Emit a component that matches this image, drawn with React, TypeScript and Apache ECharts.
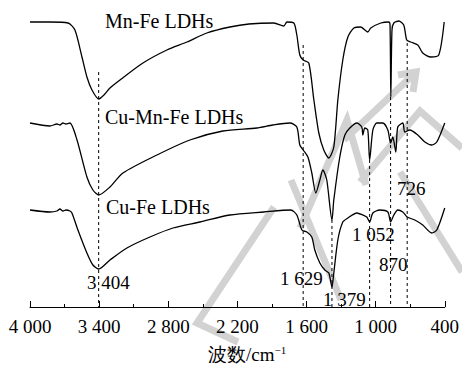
import React, { useEffect, useRef } from "react";
import * as echarts from "echarts";

// Wavenumber (cm^-1) vs. relative transmittance (arbitrary offset units)
const mnFe: [number, number][] = [
  [4000, 285], [3827, 285], [3670, 284], [3610, 277], [3549, 250], [3506, 230],
  [3462, 217], [3404, 208], [3358, 212], [3306, 219], [3219, 227], [3020, 244],
  [2812, 257], [2638, 265], [2465, 274], [2265, 280], [2100, 283], [1883, 284],
  [1797, 281], [1770, 285], [1710, 284], [1684, 272], [1658, 252], [1629, 247],
  [1580, 244], [1536, 207], [1493, 174], [1450, 157], [1406, 149], [1363, 160],
  [1328, 207], [1285, 247], [1241, 270], [1189, 279], [1129, 280], [1068, 275],
  [1042, 279], [955, 284], [886, 285], [875, 282], [868, 210], [858, 277],
  [842, 284], [799, 286], [756, 282], [730, 267], [695, 265], [634, 262],
  [591, 254], [521, 250], [452, 252], [405, 285],
];

const cuMnFe: [number, number][] = [
  [4000, 184], [3827, 181], [3766, 183], [3740, 182], [3714, 184], [3688, 183],
  [3653, 184], [3592, 167], [3506, 130], [3454, 117], [3404, 112], [3306, 120],
  [3193, 134], [2898, 152], [2612, 167], [2326, 176], [2031, 179], [1892, 182],
  [1744, 184], [1684, 180], [1658, 162], [1629, 157], [1588, 150], [1554, 134],
  [1519, 114], [1484, 127], [1458, 137], [1424, 127], [1379, 87], [1363, 107],
  [1311, 150], [1267, 172], [1224, 179], [1163, 184], [1120, 180], [1111, 172],
  [1094, 179], [1068, 177], [1052, 147], [1024, 177], [990, 184], [938, 184],
  [894, 177], [870, 164], [851, 170], [825, 155], [808, 180], [764, 184],
  [747, 175], [704, 177], [634, 172], [573, 165], [513, 162], [469, 165],
  [400, 184],
];

const cuFe: [number, number][] = [
  [4000, 97], [3827, 95], [3766, 96], [3740, 98], [3714, 96], [3688, 97],
  [3653, 96], [3636, 94], [3584, 77], [3506, 54], [3454, 42], [3404, 38],
  [3306, 47], [3159, 59], [2959, 70], [2759, 79], [2525, 85], [2265, 92],
  [1970, 95], [1736, 97], [1684, 92], [1640, 77], [1597, 75], [1554, 70],
  [1528, 57], [1484, 44], [1441, 37], [1406, 34], [1379, 20], [1363, 34],
  [1328, 67], [1285, 85], [1241, 89], [1163, 94], [1111, 92], [1077, 90],
  [1052, 85], [1024, 94], [964, 97], [894, 95], [870, 85], [842, 92],
  [808, 97], [764, 95], [726, 90], [660, 87], [591, 82], [513, 74],
  [469, 77], [400, 99],
];

// Marked peaks: wavenumber and the level the dashed guide starts from
const peakWavenumbers = [3404, 1629, 1379, 1052, 870, 726];
const peakGuideTops = [235, 262, 87, 147, 210, 264];
const peakLabels = ["3 404", "1 629", "1 379", "1 052", "870", "726"];

const seriesNames = ["Mn-Fe LDHs", "Cu-Mn-Fe LDHs", "Cu-Fe LDHs"];

const FONT = "Liberation Serif";

function fmtTick(v: number): string {
  if (v >= 1000) {
    const th = Math.floor(v / 1000);
    const rest = String(v % 1000).padStart(3, "0");
    return `${th} ${rest}`;
  }
  return String(v);
}

export default function App() {
  const ref = useRef<HTMLDivElement>(null);
  useEffect(() => {
    if (!ref.current) return;
    const chart = echarts.init(ref.current, undefined, { renderer: "svg" });

    const curveSeries = [mnFe, cuMnFe, cuFe].map((d, i) => ({
      name: seriesNames[i],
      type: "line",
      data: d,
      symbol: "none",
      smooth: 0.25,
      lineStyle: { color: "#000", width: 1.3 },
      z: 3,
    }));

    const guideSeries = peakWavenumbers.map((wn, i) => ({
      type: "line",
      data: [
        [wn, peakGuideTops[i]],
        [wn, 0],
      ],
      symbol: "none",
      lineStyle: { color: "#000", width: 1, type: [3, 3] },
      z: 2,
    }));

    const labelPos: [number, number][] = [
      [87, 282],
      [280, 278],
      [323, 299],
      [352, 234],
      [379, 264],
      [397, 188],
    ];
    const namePos: [number, number][] = [
      [105, 21],
      [105, 117],
      [106, 207],
    ];

    const graphics: any[] = [];

    // faint watermark strokes (background decoration)
    const wmStrokes: [number, number][][] = [
      [[274, 207], [197, 323], [238, 342]],
      [[300, 228], [347, 120], [366, 185]],
      [[360, 182], [420, 111], [462, 148]],
      [[344, 140], [416, 72]],
      [[398, 75], [416, 72], [413, 92]],
      [[400, 172], [462, 272]],
      [[291, 180], [341, 300]],
    ];
    wmStrokes.forEach((pts) => {
      graphics.push({
        type: "polyline",
        shape: { points: pts },
        style: { stroke: "#d2d2d2", lineWidth: 7, fill: null, lineJoin: "miter" },
        z: 0,
        silent: true,
      });
    });

    peakLabels.forEach((t, i) => {
      graphics.push({
        type: "text",
        x: labelPos[i][0],
        y: labelPos[i][1],
        style: {
          text: t,
          fill: "#000",
          font: `19px ${FONT}`,
          verticalAlign: "middle",
          align: "left",
        },
        z: 10,
      });
    });
    seriesNames.forEach((t, i) => {
      graphics.push({
        type: "text",
        x: namePos[i][0],
        y: namePos[i][1],
        style: {
          text: t,
          fill: "#000",
          font: `20px ${FONT}`,
          verticalAlign: "middle",
          align: "left",
        },
        z: 10,
      });
    });
    graphics.push({
      type: "text",
      x: 208,
      y: 354,
      style: {
        text: "{a|波数/cm}{b|−1}",
        verticalAlign: "middle",
        align: "left",
        rich: {
          a: { fontFamily: FONT, fontSize: 19, fill: "#000" },
          b: { fontFamily: FONT, fontSize: 11, fill: "#000", padding: [0, 0, 8, 0] },
        },
      },
      z: 10,
    });

    chart.setOption({
      animation: false,
      backgroundColor: "#fff",
      textStyle: { fontFamily: FONT },
      grid: { left: 30, right: 17, top: 7, bottom: 58 },
      xAxis: {
        type: "value",
        min: 400,
        max: 4000,
        interval: 600,
        inverse: true,
        axisLine: { lineStyle: { color: "#000", width: 1 } },
        axisTick: { inside: true, length: 6, lineStyle: { color: "#000" } },
        minorTick: { show: true, splitNumber: 2, length: 3, lineStyle: { color: "#000" } },
        splitLine: { show: false },
        axisLabel: {
          color: "#000",
          fontFamily: FONT,
          fontSize: 19,
          margin: 10,
          formatter: (v: number) => fmtTick(v),
        },
      },
      yAxis: {
        type: "value",
        min: 0,
        max: 300,
        show: false,
      },
      series: [...curveSeries, ...guideSeries],
      graphic: graphics,
    });

    return () => chart.dispose();
  }, []);

  return (
    <div
      ref={ref}
      style={{ position: "fixed", left: 0, top: 0, width: 462, height: 365, background: "#fff" }}
    />
  );
}
